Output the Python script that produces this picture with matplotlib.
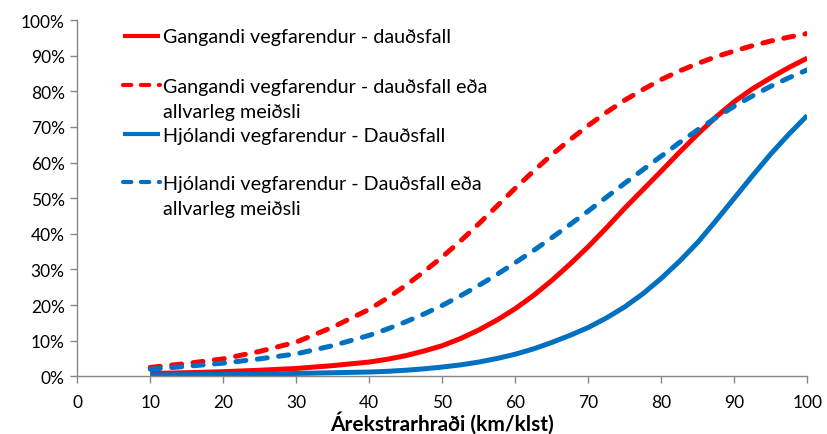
import matplotlib
matplotlib.use('Agg')
import matplotlib.pyplot as plt
from matplotlib.ticker import PercentFormatter, MultipleLocator

plt.rcParams['font.family'] = ['Lato', 'DejaVu Sans']

speed = [10, 15, 20, 25, 30, 35, 40, 42.5, 45, 47.5, 50, 52.5, 55, 57.5, 60,
         62.5, 65, 67.5, 70, 72.5, 75, 77.5, 80, 82.5, 85, 87.5, 90, 92.5, 95,
         97.5, 100]

ped_fatal = [0.8, 1.0, 1.3, 1.7, 2.2, 3.0, 4.0, 4.8, 5.8, 7.1, 8.6, 10.6, 13.0,
             15.8, 19.0, 22.7, 26.9, 31.5, 36.4, 41.7, 47.2, 52.4, 57.6, 62.9,
             68.0, 72.8, 77.1, 80.7, 83.8, 86.7, 89.3]
ped_serious = [2.5, 3.6, 4.9, 7.0, 9.6, 13.8, 18.8, 22.0, 25.5, 29.4, 33.5, 38.0,
               42.8, 47.8, 52.8, 57.6, 62.2, 66.4, 70.4, 74.1, 77.5, 80.5, 83.3,
               85.7, 87.8, 89.7, 91.3, 92.8, 94.1, 95.2, 96.2]
bike_fatal = [0.4, 0.45, 0.5, 0.6, 0.8, 1.0, 1.2, 1.4, 1.7, 2.1, 2.6, 3.2, 4.0,
              5.0, 6.2, 7.7, 9.5, 11.5, 13.7, 16.4, 19.5, 23.2, 27.5, 32.3, 37.6,
              43.7, 50.0, 56.3, 62.4, 68.0, 73.2]
bike_serious = [2.0, 2.8, 3.7, 4.9, 6.3, 8.6, 11.5, 13.3, 15.3, 17.5, 19.9, 22.6,
                25.5, 28.6, 31.9, 35.3, 38.9, 42.6, 46.4, 50.3, 54.2, 58.0, 61.8,
                65.6, 69.2, 72.6, 75.8, 78.7, 81.4, 83.8, 86.0]

labels = ['Gangandi vegfarendur - dauðsfall',
          'Gangandi vegfarendur - dauðsfall eða\nallvarleg meiðsli',
          'Hjólandi vegfarendur - Dauðsfall',
          'Hjólandi vegfarendur - Dauðsfall eða\nallvarleg meiðsli']

red = '#FF0000'
blue = '#0070C0'
grey = '#868686'

fig = plt.figure(figsize=(8.27, 4.35), dpi=100)
ax = fig.add_axes([77.3 / 827, 1 - 377.3 / 435, 730 / 827, 356.3 / 435])

series = [(ped_fatal, red, '-'), (ped_serious, red, '--'),
          (bike_fatal, blue, '-'), (bike_serious, blue, '--')]
for vals, col, ls in series:
    line, = ax.plot(speed, vals, color=col, lw=3.6, solid_capstyle='butt',
                    dash_capstyle='round', solid_joinstyle='round')
    if ls == '--':
        line.set_dashes((2.0, 2.3))

ax.set_xlim(0, 100)
ax.set_ylim(0, 100)
ax.xaxis.set_major_locator(MultipleLocator(10))
ax.yaxis.set_major_locator(MultipleLocator(10))
ax.yaxis.set_major_formatter(PercentFormatter(decimals=0))
for s in ['top', 'right']:
    ax.spines[s].set_visible(False)
for s in ['left', 'bottom']:
    ax.spines[s].set_color(grey)
    ax.spines[s].set_linewidth(1.0)
ax.tick_params(colors=grey, labelcolor='black', labelsize=12.5, length=5, width=1)
ax.tick_params(axis='x', pad=8)
ax.tick_params(axis='y', pad=4)
ax.set_xlabel('Árekstrarhraði (km/klst)', fontsize=15, fontweight='bold', labelpad=0)

# legend, laid out like the original (key beside the first line of each label);
# text y is the baseline of the label's last line
key_y = [0.956, 0.818, 0.680, 0.544]
base_y = [0.939, 0.727, 0.661, 0.4555]
for (vals, col, ls), lab, ky, by in zip(series, labels, key_y, base_y):
    k, = ax.plot([0.063, 0.113], [ky, ky], transform=ax.transAxes, color=col,
                 lw=3.0, solid_capstyle='butt', dash_capstyle='round', clip_on=False)
    if ls == '--':
        k.set_dashes((2.0, 2.3))
    ax.text(0.118, by, lab, transform=ax.transAxes, fontsize=14.2,
            va='baseline', ha='left', linespacing=1.6)

fig.savefig('out.png', dpi=100)
